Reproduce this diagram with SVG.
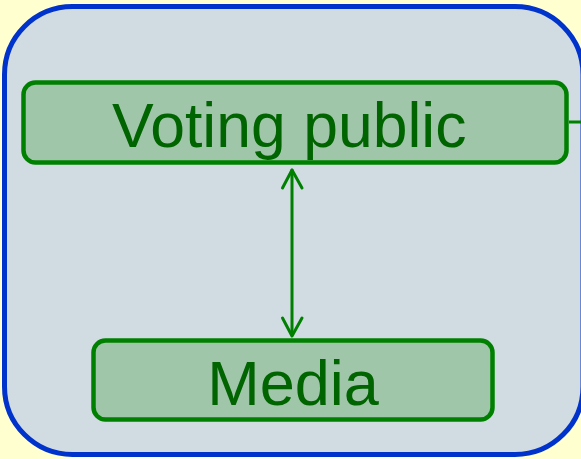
<svg xmlns="http://www.w3.org/2000/svg" width="581" height="459" viewBox="0 0 581 459">
<defs>
<style>
.node{fill:#a0c6aa;stroke:#008000;stroke-width:4.5}
.lbl{font-family:"Liberation Sans",Arial,sans-serif;font-size:63px;fill:#006400}
.conn{stroke:#008000;stroke-width:3;fill:none;stroke-linecap:round;stroke-linejoin:round}
</style>
</defs>
<rect width="581" height="459" fill="#ffffd0"/>
<g id="container">
<rect x="4.5" y="6.5" width="578.5" height="448" rx="68" fill="#d0dce2" stroke="#0033cc" stroke-width="5"/>
</g>
<g id="connectors">
<line class="conn" x1="292" y1="170" x2="292" y2="335"/>
<polyline class="conn" points="282.5,188 292,170 302,188"/>
<polyline class="conn" points="282.5,318 292,336 302,318"/>
<line x1="569" y1="122" x2="581" y2="122" stroke="#008000" stroke-width="3"/>
</g>
<g id="voting-public">
<rect class="node" x="23.5" y="82.5" width="543" height="80" rx="12"/>
<text class="lbl" x="112" y="146.5" style="font-size:62.5px">Voting public</text>
</g>
<g id="media">
<rect class="node" x="93.5" y="340.5" width="399" height="79" rx="12"/>
<text class="lbl" x="293" y="405" text-anchor="middle">Media</text>
</g>
</svg>
